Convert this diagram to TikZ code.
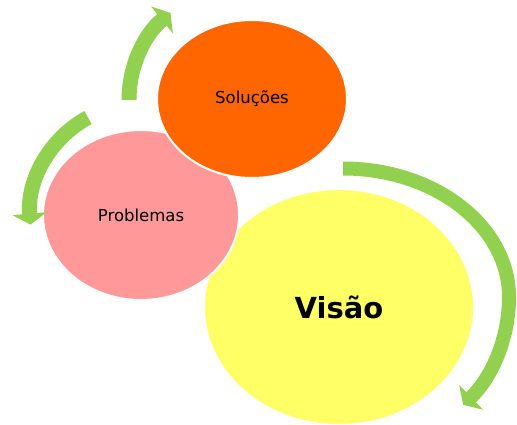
\documentclass[tikz,border=0pt]{standalone}
\usepackage{fontspec}
\setmainfont{DejaVu Sans}
\usepackage{tikz}
\usetikzlibrary{shapes.geometric,arrows.meta}

\definecolor{arrowgreen}{HTML}{92D050}
\definecolor{solorange}{HTML}{FF6600}
\definecolor{probpink}{HTML}{FF9999}
\definecolor{visyellow}{HTML}{FFFF66}

\begin{document}
\begin{tikzpicture}[x=1pt,y=1pt,
  bubble/.style={ellipse, draw=white, line width=2pt, inner sep=0pt},
  cyclearrow/.style={draw=arrowgreen, line width=15pt, -{Triangle[width=34pt,length=11pt]}}]
\useasboundingbox (0,0) rectangle (517,424);

\node[bubble, fill=visyellow, minimum width=270pt, minimum height=236pt,
  font=\bfseries\fontsize{29}{34}\selectfont] (visao) at (339,117) {Visão};
\node[bubble, fill=probpink, minimum width=196pt, minimum height=170pt,
  font=\fontsize{16.5}{20}\selectfont] (prob) at (141,209) {Problemas};
\node[bubble, fill=solorange, minimum width=190pt, minimum height=158pt,
  font=\fontsize{16.5}{20}\selectfont] (sol) at (252,325) {Soluções};

\draw[cyclearrow] (129,324) arc[start angle=180, end angle=129, radius=112];
\draw[cyclearrow] (88,306.5) arc[start angle=118.6, end angle=185, radius=111];
\draw[cyclearrow, line width=14pt] (343,255.5)
  arc[start angle=90, end angle=0, x radius=166, y radius=128.5]
  arc[start angle=0, end angle=-46, radius=150];

\end{tikzpicture}
\end{document}
